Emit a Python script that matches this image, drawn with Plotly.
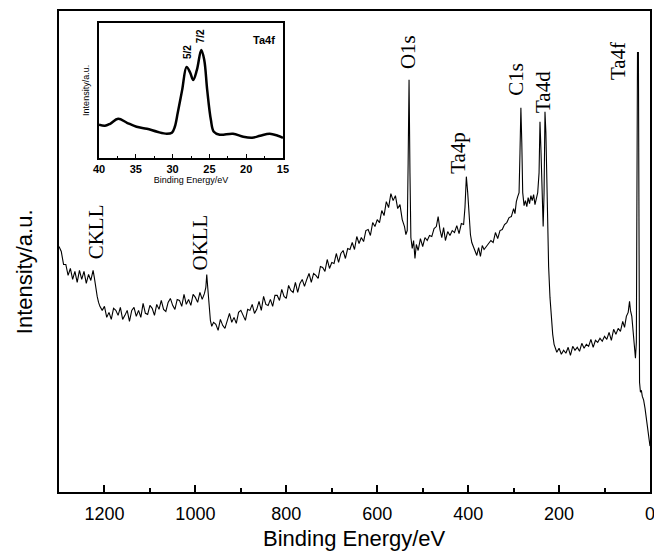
import plotly.graph_objects as go

# ---------------- main survey spectrum ----------------
energy = [
    1300, 1295, 1290, 1285, 1280, 1275, 1270, 1265, 1260, 1255, 1250, 1245, 1240, 1235, 1230, 1225,
    1222, 1219, 1216, 1213, 1210,
    1205, 1200, 1195, 1190, 1185, 1180, 1175, 1170, 1165, 1160, 1155, 1150, 1145, 1140, 1135, 1130,
    1125, 1120, 1115, 1110, 1105, 1100, 1095, 1090, 1085, 1080, 1075, 1070, 1065, 1060, 1055, 1050,
    1045, 1040, 1035, 1030, 1025, 1020, 1015, 1010, 1005, 1000, 995, 990, 985, 980,
    977, 975, 973, 970, 967, 964, 960,
    955, 950, 945, 940, 935, 930, 925, 920, 915, 910, 905, 900, 895, 890, 885, 880, 875, 870, 865, 860,
    855, 850, 845, 840, 835, 830, 825, 820, 815, 810, 805, 800, 795, 790, 785, 780, 775, 770, 765, 760,
    755, 750, 745, 740, 735, 730, 725, 720, 715, 710, 705, 700, 695, 690, 685, 680, 675, 670, 665, 660,
    655, 650, 645, 640, 635, 630, 625, 620, 615, 610, 605, 600,
    595, 590, 585, 580, 575, 570, 565, 560, 555, 550, 545, 540, 537, 534, 532, 530, 528, 526, 523, 520,
    517, 514, 510, 505, 500, 495, 490, 485, 480, 475, 470, 466, 462, 458, 454, 450, 445, 440, 435, 430,
    425, 420, 415, 410, 407, 404, 401, 398, 395, 392, 389, 385, 381, 377, 373, 369, 365, 360, 355, 350,
    345, 340, 335, 330, 325, 320, 315, 310, 305, 300, 297, 294, 291, 288, 286, 284, 282, 280, 277, 274,
    271, 268, 265, 262, 259, 256, 253, 250, 247, 244, 242, 240, 237, 235, 233, 231, 229, 226, 223, 220,
    217, 214, 211, 208,
    205, 200, 195, 190, 185, 180, 175, 170, 165, 160, 155, 150, 145, 140, 135, 130, 125, 120, 115, 110,
    105, 100, 95, 90, 85, 80, 75, 70, 65, 60, 56, 52, 48, 45, 43, 40, 37, 34, 32, 30,
    28.5, 27.5, 26.5, 25.5, 24.5, 23, 21, 19, 17, 14, 11, 8, 5, 2, 0,
]
intensity = [
    246, 241, 228, 228, 217, 224, 213, 221, 210, 222, 213, 221, 209, 218, 212, 222,
    214, 204, 196, 190, 186,
    182, 186, 175, 180, 173, 184, 182, 177, 185, 173, 177, 182, 171, 182, 185, 176,
    182, 175, 189, 179, 178, 187, 184, 177, 188, 183, 192, 183, 181, 190, 194, 187,
    183, 193, 192, 186, 198, 188, 193, 187, 198, 195, 190, 200, 193, 199,
    205, 218, 206, 185, 172, 166, 170,
    168, 162, 173, 167, 164, 172, 179, 170, 175, 169, 180, 182, 176, 172, 183, 182, 188, 179, 183, 191,
    182, 196, 188, 187, 193, 186, 197, 197, 192, 203, 196, 194, 207, 202, 200, 210, 200, 209, 213, 206,
    213, 219, 210, 219, 217, 214, 226, 225, 221, 233, 224, 230, 229, 239, 230, 239, 242, 234, 244, 243,
    250, 243, 256, 249, 255, 251, 262, 263, 257, 270, 266, 273,
    270, 282, 277, 291, 285, 299, 292, 297, 284, 288, 273, 266, 258, 262, 330, 413, 320, 255, 244, 252,
    234, 248, 242, 254, 246, 255, 252, 257, 256, 264, 266, 276, 263, 255, 265, 252, 261, 257, 262, 260,
    267, 259, 269, 268, 285, 316, 300, 272, 258, 250, 246, 241, 237, 245, 236, 247, 243, 246, 249, 252,
    250, 260, 254, 262, 263, 268, 270, 275, 276, 284, 279, 291, 296, 300, 340, 385, 350, 300, 287, 292,
    286, 295, 289, 297, 292, 298, 288, 296, 300, 320, 371, 345, 290, 266, 300, 381, 360, 270, 226, 195,
    172, 158, 148, 143,
    140, 144, 138, 142, 139, 145, 137, 146, 142, 145, 141, 149, 144, 148, 146, 153, 145, 152, 150, 154,
    151, 156, 153, 160, 152, 163, 158, 164, 161, 171, 165, 176, 180, 191, 182, 176, 160, 140, 134, 150,
    300, 441, 420, 441, 250, 110, 100, 102, 96, 92, 84, 72, 62, 52, 46,
]

main_ticks = [1200, 1000, 800, 600, 400, 200, 0]

peak_labels = ["CKLL", "OKLL", "O1s", "Ta4p", "C1s", "Ta4d", "Ta4f"]
label_x = [1219, 992, 532, 422, 295, 235, 70]
label_y = [261, 250, 441, 340, 414, 401, 432]

# ---------------- inset: Ta4f region ----------------
inset_energy = [40, 39.2, 38.5, 37.4, 36.2, 34.9, 33.5, 32.1, 30.8, 30.1, 29.7, 29.3, 28.7, 28.1,
                27.6, 27.2, 26.7, 26.1, 25.7, 25.3, 24.8, 24.4, 23.6, 21.8, 20.4, 19.2, 18.1,
                16.8, 15.7, 15]
inset_intensity = [33, 32, 34, 39, 35, 31, 29, 26, 24, 25, 31, 45, 68, 91,
                   85, 78, 88, 108, 98, 68, 38, 26, 23, 24, 21, 20, 22,
                   24, 22, 20]
inset_ticks = [40, 35, 30, 25, 20, 15]

fig = go.Figure()
fig.add_trace(go.Scatter(x=energy, y=intensity, mode="lines",
                         line=dict(color="black", width=1.1), showlegend=False,
                         xaxis="x", yaxis="y"))
fig.add_trace(go.Scatter(x=inset_energy, y=inset_intensity, mode="lines",
                         line=dict(color="black", width=2.5, shape="spline"), showlegend=False,
                         xaxis="x2", yaxis="y2"))

for t, x, y in zip(peak_labels, label_x, label_y):
    fig.add_annotation(x=x, y=y, xref="x", yref="y", text=t, textangle=-90,
                       showarrow=False,
                       font=dict(family="Liberation Serif", size=21, color="black"))

fig.add_annotation(x=17.6, y=118, xref="x2", yref="y2", text="Ta4f", showarrow=False,
                   font=dict(family="Liberation Sans", size=11, color="black", weight="bold"))
fig.add_annotation(x=27.9, y=106, xref="x2", yref="y2", text="5/2", textangle=-90, showarrow=False,
                   font=dict(family="Liberation Sans", size=10, color="black", weight="bold"))
fig.add_annotation(x=26.1, y=122, xref="x2", yref="y2", text="7/2", textangle=-90, showarrow=False,
                   font=dict(family="Liberation Sans", size=10, color="black", weight="bold"))

# axis titles (placed as paper annotations for exact positioning)
fig.add_annotation(x=0.5, y=-0.0977, xref="paper", yref="paper", text="Binding Energy/eV",
                   showarrow=False, xanchor="center", yanchor="middle",
                   font=dict(family="Liberation Sans", size=22, color="black"))
fig.add_annotation(x=-0.0592, y=0.457, xref="paper", yref="paper", text="Intensity/a.u.",
                   textangle=-90, showarrow=False, xanchor="center", yanchor="middle",
                   font=dict(family="Liberation Sans", size=22, color="black"))

fig.update_layout(
    width=654, height=553,
    margin=dict(l=59, r=4, t=11, b=61, autoexpand=False),
    paper_bgcolor="white", plot_bgcolor="white",
    font=dict(family="Liberation Sans", color="black"),
    xaxis=dict(range=[1300, 0], tickvals=main_ticks, ticks="inside", ticklen=7, tickwidth=1.5,
               tickcolor="black", automargin=False, ticklabelstandoff=4,
               ticklabeloverflow="allow",
               minor=dict(dtick=100, ticks="inside", ticklen=4, tickwidth=1.5, tickcolor="black"),
               showline=True, linewidth=2, linecolor="black", mirror=True, showgrid=False,
               zeroline=False, tickfont=dict(size=18)),
    yaxis=dict(range=[0, 482], showticklabels=False, ticks="", showline=True, linewidth=2,
               linecolor="black", mirror=True, showgrid=False, zeroline=False, automargin=False),
    xaxis2=dict(domain=[0.0677, 0.379], anchor="y2", range=[40, 15], tickvals=inset_ticks,
                ticks="inside", ticklen=4, tickwidth=1.2, tickcolor="black", automargin=False,
                ticklabeloverflow="allow",
                minor=dict(dtick=2.5, ticks="inside", ticklen=2, tickwidth=1.2, tickcolor="black"),
                showline=True, linewidth=1.5, linecolor="black", mirror=True, showgrid=False,
                zeroline=False, tickfont=dict(size=11, weight="bold"),
                title=dict(text="Binding Energy/eV", font=dict(size=9), standoff=3)),
    yaxis2=dict(domain=[0.695, 0.975], anchor="x2", range=[0, 135], showticklabels=False,
                ticks="", showline=True, linewidth=1.5, linecolor="black", mirror=True,
                showgrid=False, zeroline=False, automargin=False,
                title=dict(text="Intensity/a.u.", font=dict(size=9), standoff=6)),
)

fig.write_html("out.html", config={"displayModeBar": False},
               post_script="document.body.style.margin='0';document.body.style.padding='0';")
